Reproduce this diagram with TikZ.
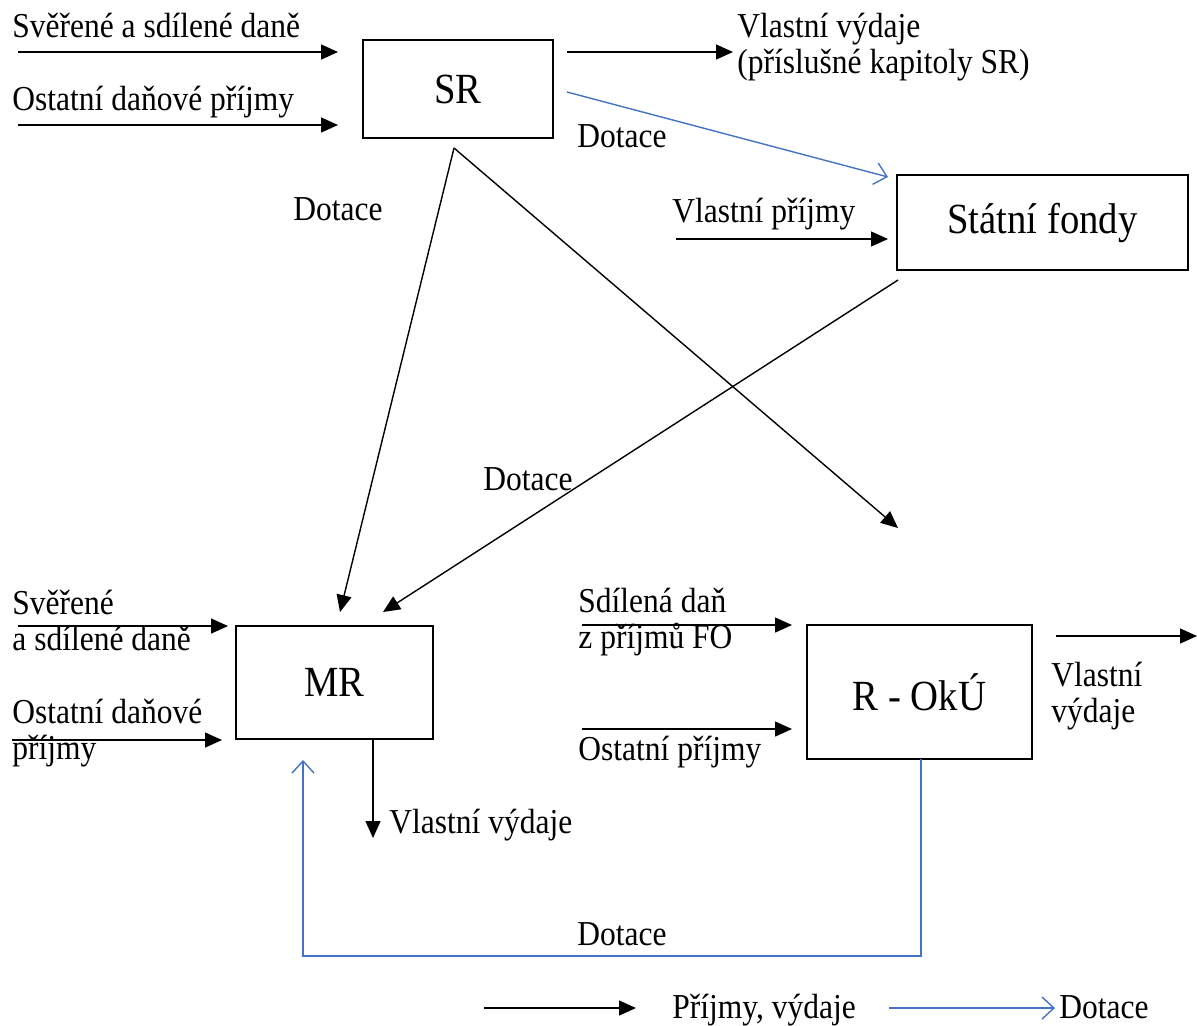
\documentclass[tikz,border=0pt]{standalone}
\usepackage{fontspec}
\setmainfont[FakeStretch=0.9]{Liberation Serif}
\usetikzlibrary{arrows.meta}
\definecolor{dblue}{HTML}{4472C4}
\begin{document}
\begin{tikzpicture}[x=0.5pt,y=-0.5pt,
  lbl/.style={inner sep=0pt, font=\fontsize{17.5}{18}\selectfont, align=left, anchor=base west},
  box/.style={draw, line width=1.4pt, inner sep=0pt, font=\fontsize{21.5}{24}\selectfont},
  flow/.style={line width=0.7pt, -{Triangle[length=8.5pt,width=7.5pt]}},
  grant/.style={line width=0.7pt, draw=dblue, -{Straight Barb[length=6pt,width=11pt,line width=0.7pt]}}]
\useasboundingbox (0,0) rectangle (1197,1025);
% boxes
\node[box, minimum width=95pt, minimum height=49pt] (SR) at (458,89) {SR};
\node[box, minimum width=145.5pt, minimum height=47.5pt] (SF) at (1042.5,222.5) {Státní fondy};
\node[box, minimum width=98.5pt, minimum height=56.5pt] (MR) at (334.5,682.5) {MR};
\node[box, minimum width=112.5pt, minimum height=67pt] (RO) at (919.5,692) {R - OkÚ};
% labels (base = baseline of the last line)
\node[lbl] (t1) at (12,37) {Svěřené a sdílené daně};
\node[lbl] (t2) at (12,110) {Ostatní daňové příjmy};
\node[lbl] (t3) at (737,73) {Vlastní výdaje\\(příslušné kapitoly SR)};
\node[lbl] (t4) at (577,147) {Dotace};
\node[lbl] (t5) at (293,220) {Dotace};
\node[lbl] (t6) at (672,222) {Vlastní příjmy};
\node[lbl] (t7) at (483,490) {Dotace};
\node[lbl] (t8) at (12,650) {Svěřené\\a sdílené daně};
\node[lbl] (t9) at (12,759) {Ostatní daňové\\příjmy};
\node[lbl] (t10) at (578,648) {Sdílená daň\\z příjmů FO};
\node[lbl] (t11) at (578,760) {Ostatní příjmy};
\node[lbl] (t12) at (1051,722) {Vlastní\\výdaje};
\node[lbl] (t13) at (389,833) {Vlastní výdaje};
\node[lbl] (t14) at (577,945) {Dotace};
\node[lbl] (t15) at (672,1018) {Příjmy, výdaje};
\node[lbl] (t16) at (1059,1018) {Dotace};
% coordinates
\coordinate (a1s) at (18,52);   \coordinate (a1e) at (338,52);
\coordinate (a2s) at (18,125);  \coordinate (a2e) at (338,125);
\coordinate (a3s) at (567,52);  \coordinate (a3e) at (733,52);
\coordinate (b1s) at (567,92);  \coordinate (b1e) at (888,177);
\coordinate (a4s) at (676,239); \coordinate (a4e) at (888,239);
\coordinate (d0) at (454,148);
\coordinate (d1e) at (340,612);
\coordinate (d2e) at (898,528);
\coordinate (d3s) at (898,280); \coordinate (d3e) at (383,612);
\coordinate (a5s) at (18,626);  \coordinate (a5e) at (228,626);
\coordinate (a6s) at (12,740);  \coordinate (a6e) at (222,740);
\coordinate (a7s) at (373,739); \coordinate (a7e) at (373,838);
\coordinate (a8s) at (582,625); \coordinate (a8e) at (792,625);
\coordinate (a9s) at (582,729); \coordinate (a9e) at (792,729);
\coordinate (a10s) at (1056,636); \coordinate (a10e) at (1197,636);
\coordinate (b2s) at (921,759); \coordinate (b2c1) at (921,956); \coordinate (b2c2) at (303,956); \coordinate (b2e) at (303,760);
\coordinate (l1s) at (484,1008); \coordinate (l1e) at (636,1008);
\coordinate (l2s) at (889,1008); \coordinate (l2e) at (1055,1008);
% connectors
\draw[flow] (a1s) -- (a1e);
\draw[flow] (a2s) -- (a2e);
\draw[flow] (a3s) -- (a3e);
\draw[grant] (b1s) -- (b1e);
\draw[flow] (a4s) -- (a4e);
\draw[flow] (d0) -- (d1e);
\draw[flow] (d0) -- (d2e);
\draw[flow] (d3s) -- (d3e);
\draw[flow] (a5s) -- (a5e);
\draw[flow] (a6s) -- (a6e);
\draw[flow] (a7s) -- (a7e);
\draw[flow] (a8s) -- (a8e);
\draw[flow] (a9s) -- (a9e);
\draw[flow] (a10s) -- (a10e);
\draw[grant] (b2s) -- (b2c1) -- (b2c2) -- (b2e);
\draw[flow] (l1s) -- (l1e);
\draw[grant] (l2s) -- (l2e);
\end{tikzpicture}
\end{document}
